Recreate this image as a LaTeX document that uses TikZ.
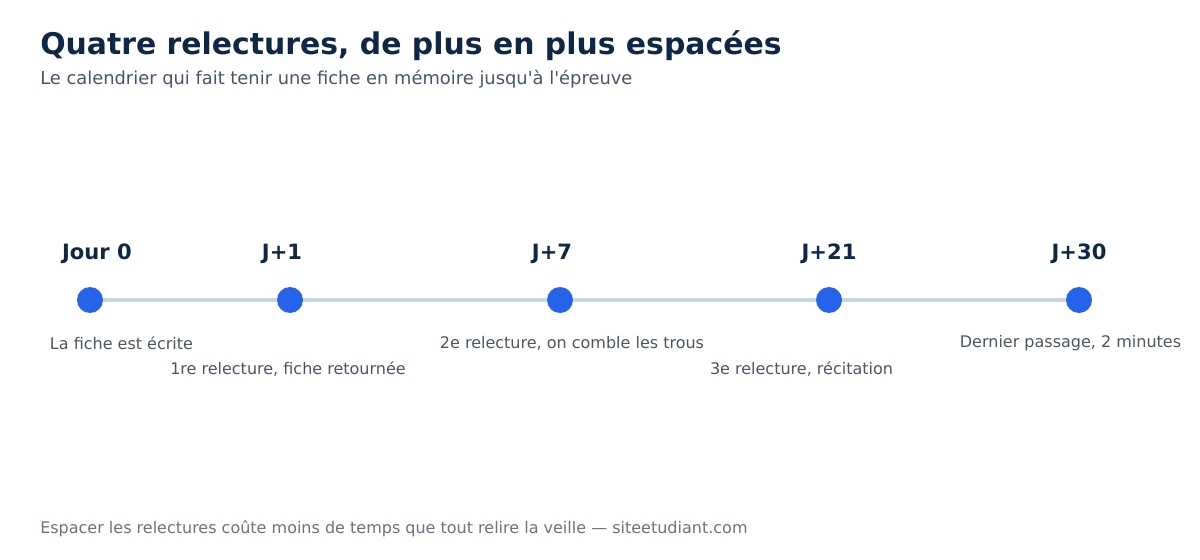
\documentclass[tikz,border=0pt]{standalone}
\usepackage{fontspec}
\setmainfont{DejaVu Sans}
\usepackage{tikz}
\usetikzlibrary{positioning}
\definecolor{navy}{HTML}{0F2747}
\definecolor{slate}{HTML}{475569}
\definecolor{greytext}{HTML}{4B5563}
\definecolor{foot}{HTML}{6B7280}
\definecolor{track}{HTML}{CBD5E1}
\definecolor{dotblue}{HTML}{2563EB}
\tikzset{
    heading/.style = {
        anchor=base west,
        font=\bfseries\fontsize{22.4}{26}\selectfont,
        text=navy,
        inner sep=0pt,
    },
    subheading/.style = {
        anchor=west,
        font=\fontsize{13.4}{16}\selectfont,
        text=slate,
        inner sep=0pt,
    },
    milestone/.style = {
        circle,
        fill=dotblue,
        minimum size=19.5pt,
        inner sep=0pt,
    },
    day/.style = {
        on grid,
        font=\bfseries\fontsize{15.8}{18}\selectfont,
        text=navy,
        inner sep=0pt,
    },
    note/.style = {
        font=\fontsize{12}{14}\selectfont,
        text=greytext,
        inner sep=0pt,
    },
    footnote/.style = {
        anchor=west,
        font=\fontsize{12}{14}\selectfont,
        text=foot,
        inner sep=0pt,
    },
}
\tikzstyle{trackline} = [track, line width=3pt]

\begin{document}
\begin{tikzpicture}[x=0.75pt, y=-0.75pt]
        \useasboundingbox (0,0) rectangle (1200,560);

        \node(title) [heading] at (40,55)
        {Quatre relectures, de plus en plus espacées};
        \node(subtitle) [subheading] at (40,79)
        {Le calendrier qui fait tenir une fiche en mémoire jusqu\textquotesingle à l\textquotesingle épreuve};

        \node(d0) [milestone] at (90,300) {};
        \node(d1) [milestone] at (290,300) {};
        \node(d7) [milestone] at (560,300) {};
        \node(d21) [milestone] at (829,300) {};
        \node(d30) [milestone] at (1079,300) {};

        \draw [trackline] (d0) -- (d1);
        \draw [trackline] (d1) -- (d7);
        \draw [trackline] (d7) -- (d21);
        \draw [trackline] (d21) -- (d30);

        \node(t0)[day, above = 34.5pt of d0, xshift=5.25pt] {Jour 0};
        \node(t1)[day, above = 34.5pt of d1, xshift=-6pt] {J+1};
        \node(t7)[day, above = 34.5pt of d7, xshift=-6pt] {J+7};
        \node(t21)[day, above = 34.5pt of d21] {J+21};
        \node(t30)[day, above = 34.5pt of d30] {J+30};

        \node(n0) [note] at (121.5,343) {La fiche est écrite};
        \node(n1) [note] at (288,369) {1re relecture, fiche retournée};
        \node(n7) [note] at (572,343) {2e relecture, on comble les trous};
        \node(n21) [note] at (801.5,369) {3e relecture, récitation};
        \node(n30) [note] at (1070.5,343) {Dernier passage, 2 minutes};

        \node(credit) [footnote] at (40,529)
        {Espacer les relectures coûte moins de temps que tout relire la veille — siteetudiant.com};

    \end{tikzpicture}
\end{document}
